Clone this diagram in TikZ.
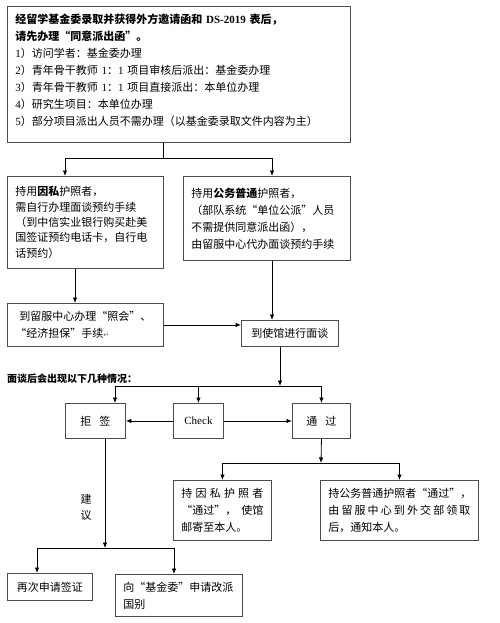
\documentclass[tikz,border=0pt]{standalone}
\usepackage{fontspec}
\setmainfont{Noto Sans CJK SC}
\newfontfamily\lat{Liberation Serif}
\newfontfamily\symb{DejaVu Sans}
\usetikzlibrary{arrows.meta}
\def\txt{\fontsize{11}{17}\selectfont}

\begin{document}
\begin{tikzpicture}[x=1pt,y=-1pt,
  box/.style={draw=black!70,line width=0.9pt,anchor=north west,inner xsep=8pt,inner ysep=0pt,align=left,font=\txt},
  cbox/.style={draw=black!70,line width=0.9pt,anchor=north west,inner sep=0pt,align=center,font=\txt},
  arr/.style={-{Latex[length=5.5pt,width=4.5pt]},line width=0.8pt}]
\useasboundingbox (0,0) rectangle (500,623);

% top: what to do first
\node[box,minimum width=343pt,minimum height=136pt,text width=327pt] (apply) at (7,6)
  {{\bfseries 经留学基金委录取并获得外方邀请函和 {\lat DS-2019} 表后，}\\
   {\bfseries 请先办理“同意派出函”。}\\
   {\lat 1}）访问学者：基金委办理\\
   {\lat 2}）青年骨干教师 {\lat 1}：{\lat 1} 项目审核后派出：基金委办理\\
   {\lat 3}）青年骨干教师 {\lat 1}：{\lat 1} 项目直接派出：本单位办理\\
   {\lat 4}）研究生项目：本单位办理\\
   {\lat 5}）部分项目派出人员不需办理（以基金委录取文件内容为主）\rule[-10pt]{0pt}{0pt}};

\node[box,minimum width=156pt,minimum height=92pt,text width=140pt,font=\fontsize{11}{15.3}\selectfont] (priv) at (7,176)
  {持用\textbf{因私}护照者，\\
   需自行办理面谈预约手续\\
   （到中信实业银行购买赴美\\
   国签证预约电话卡，自行电\\
   话预约）};
\node[box,minimum width=167pt,minimum height=84pt,text width=151pt] (pub) at (183,176)
  {持用\textbf{公务普通}护照者，\\
   （部队系统“单位公派”人员\\
   不需提供同意派出函），\\
   由留服中心代办面谈预约手续};
\node[box,minimum width=156pt,minimum height=43pt,text width=140pt] (meet) at (7,303)
  {\hspace{4pt}到留服中心办理“照会”、\\
   “经济担保”手续{\symb\fontsize{7}{7}\selectfont\color{black!60}↵}};
\node[cbox,minimum width=97pt,minimum height=26pt] (emb) at (241,320) {到使馆进行面谈};

\coordinate (j1) at (163,158);
\draw[line width=0.8pt] (apply.south -| j1) -- (j1);
\draw[arr] (j1) -| ([xshift=58pt]priv.north west);
\draw[arr] (j1) -| ([xshift=89pt]pub.north west);
\draw[arr] ([xshift=68pt]priv.south west) -- ([xshift=68pt]meet.north west);
\draw[arr] ([xshift=89pt]pub.south west) -- ([xshift=31pt]emb.north west);
\draw[arr] (meet.east) -- (meet.east -| emb.west);

% after the interview
\node[anchor=west,inner sep=0pt,font=\bfseries\fontsize{10}{12}\selectfont] (cases) at (7,379) {面谈后会出现以下几种情况：};

\node[cbox,minimum width=60pt,minimum height=35pt] (reject) at (65,403) {拒\hspace{8pt}签};
\node[cbox,minimum width=50pt,minimum height=35pt] (check) at (173,403) {\lat Check};
\node[cbox,minimum width=58pt,minimum height=35pt] (pass) at (292,403) {通\hspace{8pt}过};

\coordinate (j2) at (280,386);
\draw[arr] (emb.south -| j2) -- (j2);
\draw[arr] (j2) -| ([xshift=50pt]reject.north west);
\draw[arr] (j2) -| (check.north);
\draw[arr] (j2) -| (pass.north);
\draw[arr] (check.west) -- (reject.east);
\draw[arr] (check.east) -- (pass.west);

\node[box,minimum width=98pt,minimum height=60pt,text width=82pt] (privok) at (173,480)
  {\makebox[82pt][l]{持\hfill 因\hfill 私\hfill 护\hfill 照\hfill 者}\\
   \makebox[82pt][l]{“通过”，\hfill 使馆}\\
   邮寄至本人。};
\node[box,minimum width=158pt,minimum height=60pt,text width=142pt] (pubok) at (320,480)
  {持公务普通护照者“通过”，\\
   \makebox[142pt][l]{由\hfill 留\hfill 服\hfill 中\hfill 心\hfill 到\hfill 外\hfill 交\hfill 部\hfill 领\hfill 取}\\
   后，通知本人。};

\coordinate (j3) at (321,463);
\draw[arr] (pass.south) -- (j3);
\draw[arr] (j3) -| (privok.north);
\draw[arr] (j3) -| (pubok.north);

% refused
\node[cbox,minimum width=85pt,minimum height=27pt] (retry) at (7,573) {再次申请签证};
\node[box,minimum width=127pt,minimum height=42pt,text width=111pt] (change) at (115,574)
  {向“基金委”申请改派\\
   国别};
\node[align=center,inner sep=0pt,font=\fontsize{11}{16}\selectfont] (advice) at (86,507) {建\\议};

\coordinate (j4) at (105,548);
\draw[arr] (reject.south -| j4) -- (j4);
\draw[arr] (j4) -| ([xshift=30pt]retry.north west);
\draw[arr] (j4) -| ([xshift=59pt]change.north west);
\end{tikzpicture}
\end{document}
